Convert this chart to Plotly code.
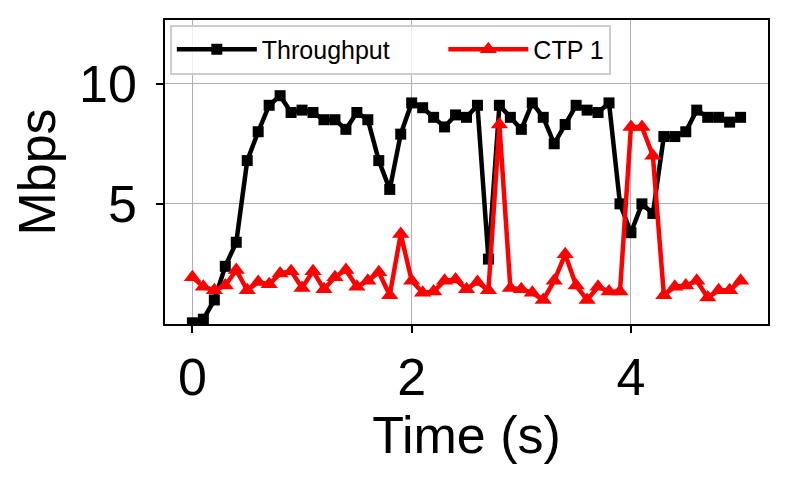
import plotly.graph_objects as go

time_s = [round(i * 0.1, 1) for i in range(51)]
throughput = [0.05, 0.2, 1.0, 2.4, 3.4, 6.8, 8.0, 9.1, 9.5, 8.8,
              8.9, 8.8, 8.5, 8.5, 8.1, 8.8, 8.5, 6.8, 5.6, 7.9,
              9.2, 9.0, 8.6, 8.2, 8.7, 8.6, 9.1, 2.7, 9.1, 8.6,
              8.1, 9.2, 8.6, 7.5, 8.3, 9.1, 8.9, 8.8, 9.2, 5.0,
              3.8, 5.0, 4.6, 7.8, 7.8, 8.0, 8.9, 8.6, 8.6, 8.4,
              8.6]
ctp1 = [1.95, 1.55, 1.4, 1.6, 2.25, 1.4, 1.75, 1.65, 2.1, 2.2,
        1.5, 2.2, 1.45, 1.95, 2.25, 1.55, 1.8, 2.15, 1.2, 3.75,
        1.8, 1.3, 1.35, 1.8, 1.85, 1.45, 1.75, 1.4, 8.3, 1.5,
        1.45, 1.3, 1.0, 1.8, 2.9, 1.6, 1.0, 1.55, 1.35, 1.35,
        8.2, 8.2, 7.0, 1.2, 1.55, 1.6, 1.8, 1.1, 1.4, 1.4,
        1.8]

series_names = ["Throughput", "CTP 1"]
x_ticks = [0, 2, 4]
y_ticks = [5, 10]

font_family = "Liberation Sans, Arial, Helvetica, sans-serif"
pad = "\u00a0" * 7

fig = go.Figure()
fig.add_trace(go.Scatter(
    x=time_s, y=throughput, name=series_names[0] + pad, mode="lines+markers",
    line=dict(color="black", width=4.5),
    marker=dict(symbol="square", size=11, color="black"),
))
fig.add_trace(go.Scatter(
    x=time_s, y=ctp1, name=series_names[1], mode="lines+markers",
    line=dict(color="#ff0000", width=4.5),
    marker=dict(symbol="triangle-up", size=15, color="#ff0000"),
))

axis_common = dict(
    showline=True, linecolor="black", linewidth=1.5, mirror=True,
    ticks="outside", ticklen=7, tickwidth=1.5, tickcolor="black",
    showgrid=True, gridcolor="#b0b0b0", gridwidth=1,
    zeroline=False, automargin=False,
    tickfont=dict(size=52, color="black", family=font_family),
)

fig.update_layout(
    width=784, height=472,
    margin=dict(l=157, r=24, t=12, b=156),
    paper_bgcolor="white", plot_bgcolor="white",
    font=dict(family=font_family, color="black"),
    xaxis=dict(range=[-0.25, 5.25], tickvals=x_ticks,
               title=dict(text="Time (s)", font=dict(size=52), standoff=4),
               **axis_common),
    yaxis=dict(range=[0, 12.65], tickvals=y_ticks, ticklabelstandoff=9,
               title=dict(text="Mbps", font=dict(size=52), standoff=7),
               **axis_common),
    legend=dict(
        orientation="h", x=0.008, y=0.985, xanchor="left", yanchor="top",
        bgcolor="rgba(255,255,255,0.8)", bordercolor="#cccccc", borderwidth=2,
        font=dict(size=25, color="black", family=font_family),
        itemwidth=80,
    ),
    showlegend=True,
)

fig.write_html("out.html")
